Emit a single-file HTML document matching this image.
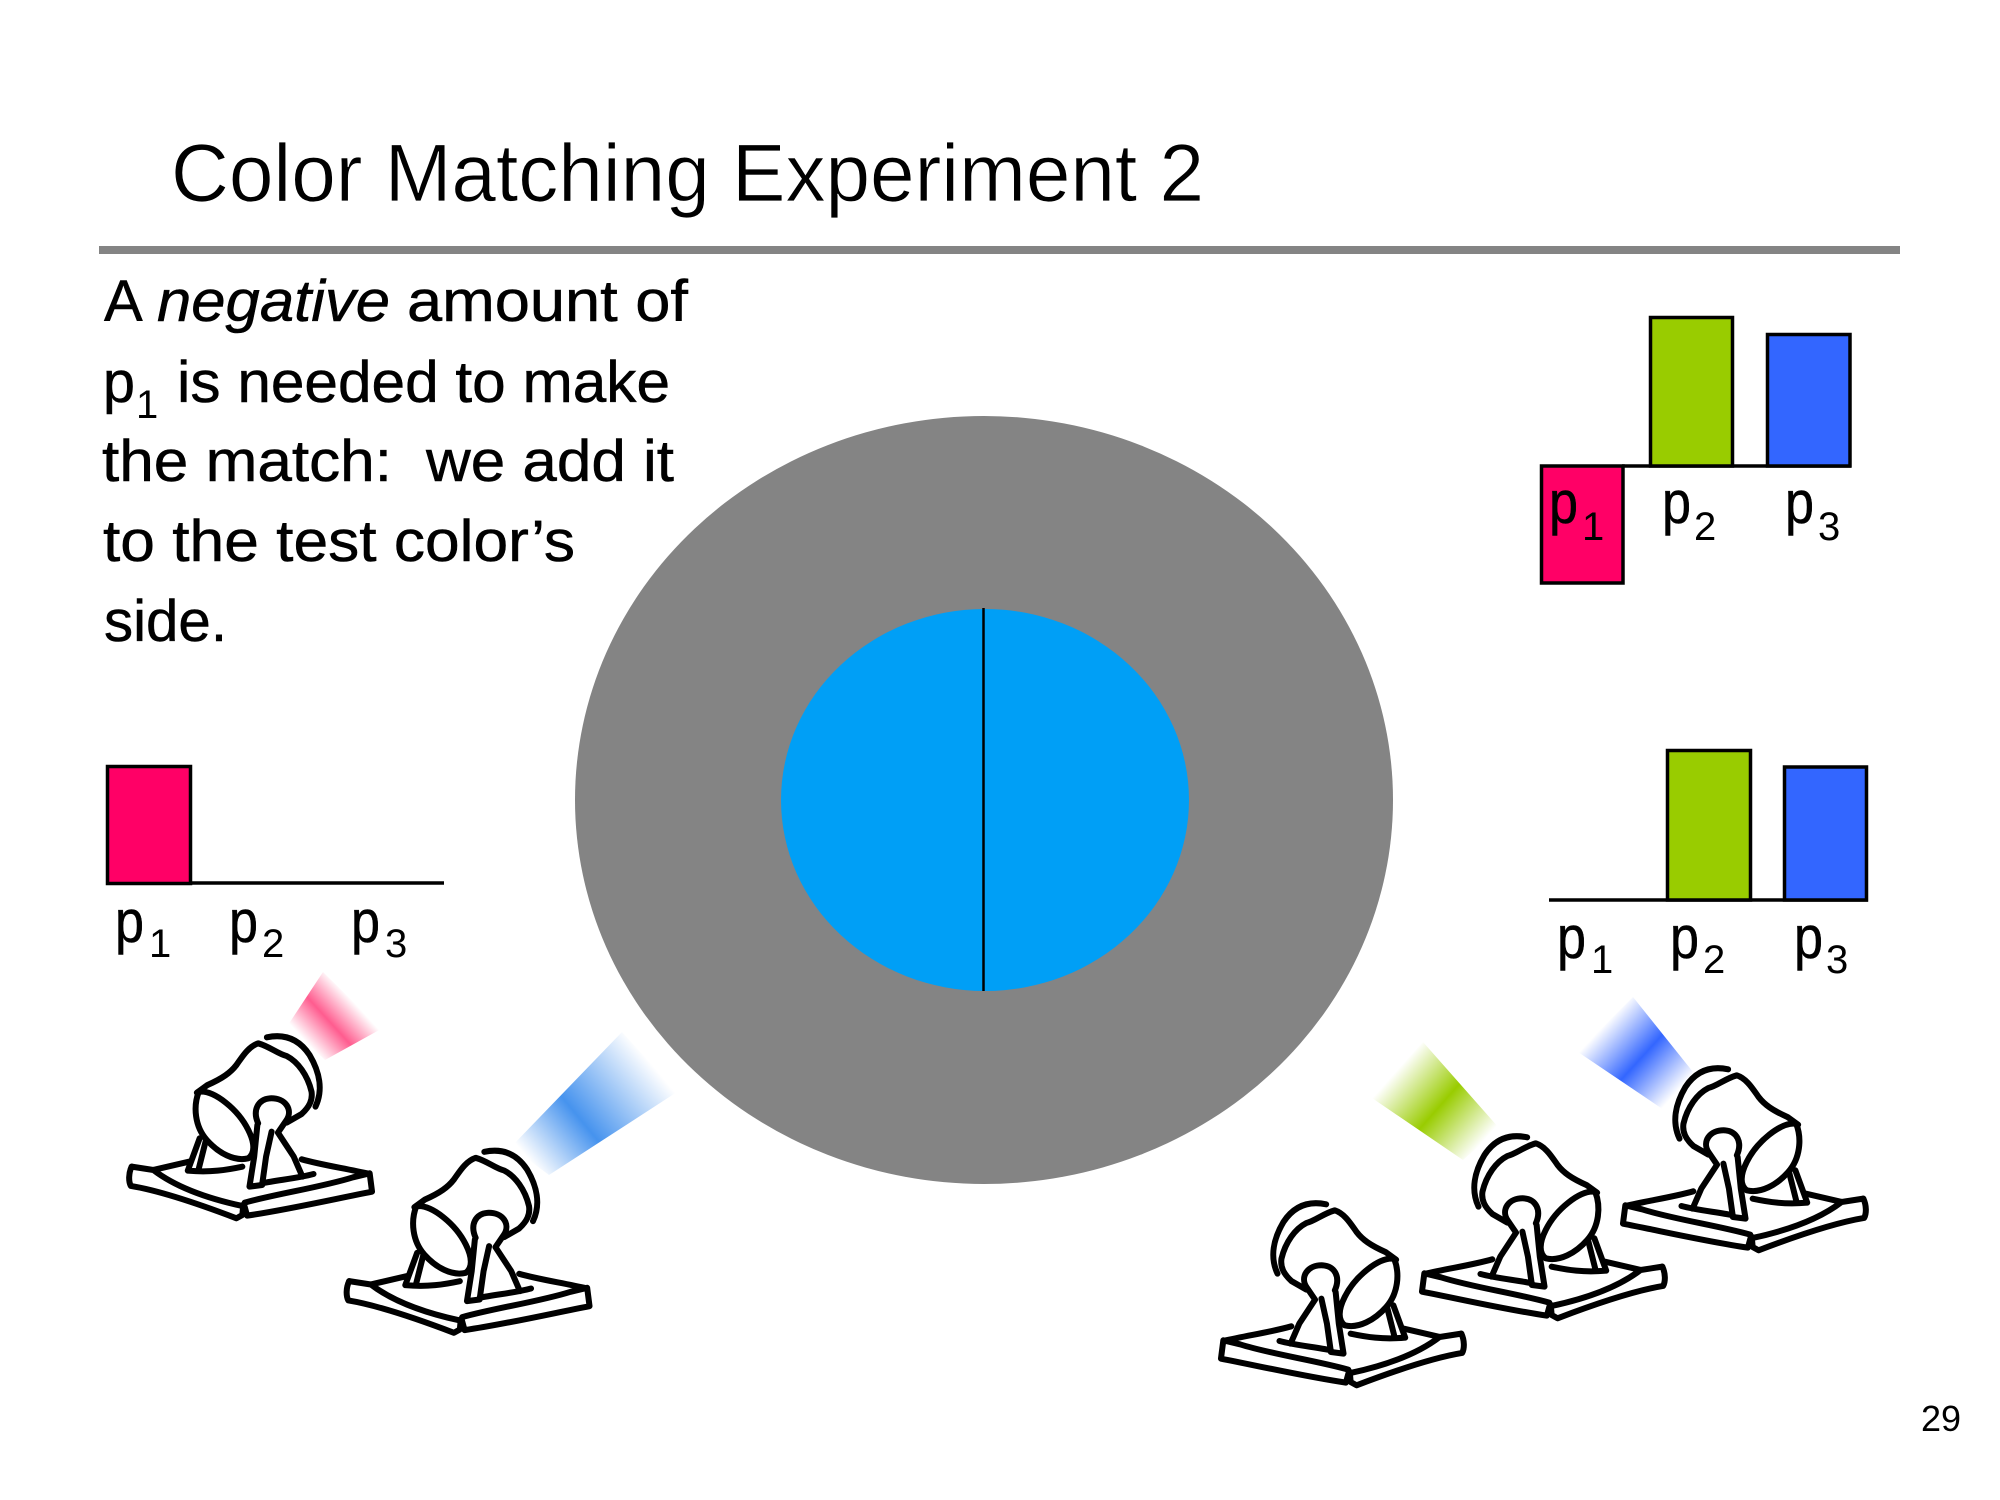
<!DOCTYPE html>
<html>
<head>
<meta charset="utf-8">
<style>
html,body{margin:0;padding:0;background:#fff;width:2000px;height:1500px;overflow:hidden}
svg{display:block}
text{font-family:"Liberation Sans",sans-serif;fill:#000}
.b{font-size:58px;stroke:#000;stroke-width:.5px}
.s{font-size:40px}
.pp{font-size:60px;stroke:#000;stroke-width:.5px}
</style>
</head>
<body>
<svg width="2000" height="1500" viewBox="0 0 2000 1500" xmlns="http://www.w3.org/2000/svg">
<defs>
<linearGradient id="gPink" gradientUnits="userSpaceOnUse" x1="306" y1="1042" x2="352" y2="1000">
<stop offset="0" stop-color="#ff5c8f" stop-opacity="0"/><stop offset=".5" stop-color="#ff5c8f"/><stop offset="1" stop-color="#ff5c8f" stop-opacity="0"/></linearGradient>
<linearGradient id="gBlue" gradientUnits="userSpaceOnUse" x1="530" y1="1161" x2="650" y2="1062">
<stop offset="0" stop-color="#4693ee" stop-opacity="0"/><stop offset=".42" stop-color="#4693ee"/><stop offset="1" stop-color="#4693ee" stop-opacity="0"/></linearGradient>
<linearGradient id="gGreen" gradientUnits="userSpaceOnUse" x1="1481" y1="1144" x2="1397" y2="1070">
<stop offset="0" stop-color="#99cc00" stop-opacity="0"/><stop offset=".5" stop-color="#99cc00"/><stop offset="1" stop-color="#99cc00" stop-opacity="0"/></linearGradient>
<linearGradient id="gBlue2" gradientUnits="userSpaceOnUse" x1="1678" y1="1091" x2="1605" y2="1024">
<stop offset="0" stop-color="#3366ff" stop-opacity="0"/><stop offset=".5" stop-color="#3366ff"/><stop offset="1" stop-color="#3366ff" stop-opacity="0"/></linearGradient>
<g id="proj">
<g transform="translate(100,950) scale(0.3954,0.3333)" fill="none" stroke="#000" stroke-linecap="round" stroke-linejoin="round">
<path vector-effect="non-scaling-stroke" stroke-width="6" d="M422,262 C470,250 505,270 530,315 C555,365 565,420 545,470"/>
<path vector-effect="non-scaling-stroke" stroke-width="6" d="M245,428 L272,405 C310,385 330,368 345,345 C360,320 375,290 400,280 C430,290 450,312 472,318 C500,335 525,375 535,425 C538,450 530,470 510,492 L472,518"/>
<path vector-effect="non-scaling-stroke" stroke-width="6" d="M250,425 C290,420 350,480 375,540 C392,580 392,610 375,625 C340,635 300,610 270,570 C240,530 235,470 250,425"/>
<path vector-effect="non-scaling-stroke" stroke-width="6" d="M400,520 C385,480 400,448 430,445 C470,443 488,480 472,510 L450,548 L490,620 L512,680"/>
<path vector-effect="non-scaling-stroke" stroke-width="6" d="M434,545 L420,620 L410,705 L378,710 L390,620 L398,525"/>
<path vector-effect="non-scaling-stroke" stroke-width="6" d="M252,565 L222,662 C280,668 320,660 360,650 M268,570 L250,655"/>
<path vector-effect="non-scaling-stroke" stroke-width="6" d="M410,700 C450,690 500,685 540,672"/>
<path vector-effect="non-scaling-stroke" stroke-width="6" d="M80,650 L135,660 L225,635 M510,628 C560,645 620,655 682,672 M135,660 C190,710 270,745 360,768 M366,758 C450,730 560,712 640,682 L682,670 L688,725 C600,745 480,778 372,797 L364,762"/>
<path vector-effect="non-scaling-stroke" stroke-width="6" d="M80,650 C72,670 72,695 78,708 C150,722 250,762 345,805 L360,795 L362,768"/>
</g>
</g>
</defs>

<!-- title -->
<text x="171" y="201" font-size="82" textLength="1033" lengthAdjust="spacingAndGlyphs" style="stroke:#fff;stroke-width:.8px">Color Matching Experiment 2</text>
<rect x="99" y="246" width="1801" height="8" fill="#848484"/>

<!-- body -->
<text class="b" x="104" y="321">A</text>
<text class="b" x="157" y="321" font-style="italic" textLength="233" lengthAdjust="spacingAndGlyphs">negative</text>
<text class="b" x="407" y="321" textLength="281" lengthAdjust="spacingAndGlyphs">amount of</text>
<text class="b" x="103" y="402" textLength="32" lengthAdjust="spacingAndGlyphs">p</text>
<text class="s" x="136" y="418">1</text>
<text class="b" x="177" y="402" textLength="493" lengthAdjust="spacingAndGlyphs">is needed to make</text>
<text class="b" x="102" y="481" textLength="290" lengthAdjust="spacingAndGlyphs">the match:</text>
<text class="b" x="426" y="481" textLength="248" lengthAdjust="spacingAndGlyphs">we add it</text>
<text class="b" x="103" y="561" textLength="472" lengthAdjust="spacingAndGlyphs">to the test color’s</text>
<text class="b" x="104" y="641" textLength="123" lengthAdjust="spacingAndGlyphs">side.</text>

<!-- circle -->
<ellipse cx="984" cy="800" rx="409" ry="384" fill="#848484"/>
<ellipse cx="985" cy="800" rx="204" ry="191" fill="#009ff6"/>
<line x1="983.5" y1="608" x2="983.5" y2="991" stroke="#000" stroke-width="2.5"/>

<!-- top right chart -->
<line x1="1622" y1="466" x2="1851" y2="466" stroke="#000" stroke-width="3.5"/>
<rect x="1541.5" y="466" width="81.5" height="117" fill="#ff0066" stroke="#000" stroke-width="3.5"/>
<rect x="1650.5" y="317.5" width="82" height="148.5" fill="#99cc00" stroke="#000" stroke-width="3.5"/>
<rect x="1767.5" y="334.5" width="82.5" height="131.5" fill="#3366ff" stroke="#000" stroke-width="3.5"/>
<text class="pp" x="1549" y="523" textLength="29" lengthAdjust="spacingAndGlyphs">p</text><text class="s" x="1582" y="540">1</text>
<text class="pp" x="1662" y="523" textLength="29" lengthAdjust="spacingAndGlyphs">p</text><text class="s" x="1694" y="540">2</text>
<text class="pp" x="1785" y="523" textLength="29" lengthAdjust="spacingAndGlyphs">p</text><text class="s" x="1818" y="540">3</text>

<!-- bottom right chart -->
<line x1="1549" y1="900" x2="1868" y2="900" stroke="#000" stroke-width="3.5"/>
<rect x="1667.5" y="750.5" width="83" height="149.5" fill="#99cc00" stroke="#000" stroke-width="3.5"/>
<rect x="1784.5" y="767" width="82" height="133" fill="#3366ff" stroke="#000" stroke-width="3.5"/>
<text class="pp" x="1557" y="958" textLength="29" lengthAdjust="spacingAndGlyphs">p</text><text class="s" x="1591" y="973">1</text>
<text class="pp" x="1670" y="958" textLength="29" lengthAdjust="spacingAndGlyphs">p</text><text class="s" x="1703" y="973">2</text>
<text class="pp" x="1794" y="958" textLength="29" lengthAdjust="spacingAndGlyphs">p</text><text class="s" x="1826" y="973">3</text>

<!-- left chart -->
<line x1="190" y1="883" x2="444" y2="883" stroke="#000" stroke-width="3.5"/>
<rect x="107.5" y="766.5" width="83" height="117" fill="#ff0066" stroke="#000" stroke-width="3.5"/>
<text class="pp" x="115" y="942" textLength="29" lengthAdjust="spacingAndGlyphs">p</text><text class="s" x="149" y="957">1</text>
<text class="pp" x="229" y="942" textLength="29" lengthAdjust="spacingAndGlyphs">p</text><text class="s" x="262" y="957">2</text>
<text class="pp" x="351" y="942" textLength="29" lengthAdjust="spacingAndGlyphs">p</text><text class="s" x="385" y="957">3</text>

<!-- beams -->
<polygon points="288,1025 325,1060 381,1029 323,972" fill="url(#gPink)"/>
<polygon points="511,1147 549,1175 677,1092 622,1032" fill="url(#gBlue)"/>
<polygon points="1499,1128 1463,1160 1372,1098 1423,1042" fill="url(#gGreen)"/>
<polygon points="1693,1072 1664,1110 1578,1052 1633,997" fill="url(#gBlue2)"/>

<!-- projectors -->
<use href="#proj"/>
<use href="#proj" transform="translate(217.5,114.5)"/>
<use href="#proj" transform="translate(1593,167) scale(-1,1)"/>
<use href="#proj" transform="translate(1794,100) scale(-1,1)"/>
<use href="#proj" transform="translate(1995,32) scale(-1,1)"/>

<text x="1921" y="1431" font-size="36">29</text>
</svg>
</body>
</html>
